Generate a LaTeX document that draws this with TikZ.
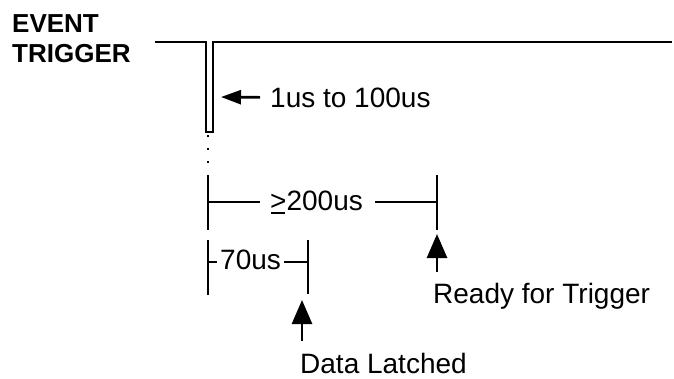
\documentclass[tikz,border=0pt]{standalone}
\usepackage{fontspec}
\setmainfont{Liberation Sans}
\usetikzlibrary{arrows.meta}
\newcommand{\geqline}{\leavevmode\rlap{\kern0.03em\rule[-4pt]{0.5em}{2pt}}>}
\begin{document}
\begin{tikzpicture}[x=1pt, y=-1pt,
    head/.style={font=\fontsize{26}{30}\selectfont\bfseries, inner sep=0pt, anchor=base west},
    lbl/.style={font=\fontsize{28}{30}\selectfont, inner sep=0pt, anchor=base west},
    sig/.style={line width=2.7pt},
    up/.style={line width=2.7pt, -{Triangle[width=20pt,length=24pt]}},
    left/.style={line width=2.7pt, -{Triangle[width=14pt,length=20pt]}}
]
  \useasboundingbox (0,0) rectangle (674,378);
  \node[head] (event)   at (12,32) {EVENT};
  \node[head] (trigger) at (12,62) {TRIGGER};
  % trigger pulse
  \draw[sig] (155,42) -- (206,42) -- (206,132) -- (213,132) -- (213,42) -- (672,42);
  \draw[line width=2.2pt, dash pattern=on 2pt off 11pt] (208,135) -- (208,168);
  \node[lbl] (width) at (270,107) {1us to 100us};
  \coordinate (pulse) at (221,97);
  \draw[left] ([xshift=-10pt]width.west) -- (pulse);
  % >=200us span
  \node[lbl] (t200) at (270,210) {\geqline200us};
  \draw[sig] (208,175) -- (208,230);
  \draw[sig] (437,175) -- (437,230);
  \draw[sig] (208,202) -- ([xshift=-10pt]t200.west |- 0,202);
  \draw[sig] ([xshift=12pt]t200.east |- 0,202) -- (437,202);
  % 70us span
  \node[lbl] (t70) at (220,269) {70us};
  \draw[sig] (208,240) -- (208,295);
  \draw[sig] (308,240) -- (308,294);
  \draw[sig] (208,262) -- ([xshift=-3pt]t70.west |- 0,262);
  \draw[sig] ([xshift=3pt]t70.east |- 0,262) -- (308,262);
  % markers
  \node[lbl] (rdy) at (433,303) {Ready for Trigger};
  \coordinate (ready) at (437,234);
  \draw[up] ([xshift=4pt,yshift=11pt]rdy.north west) -- (ready);
  \node[lbl] (dl) at (300,373) {Data Latched};
  \coordinate (latch) at (302,300);
  \draw[up] ([xshift=2pt,yshift=12pt]dl.north west) -- (latch);
\end{tikzpicture}
\end{document}
